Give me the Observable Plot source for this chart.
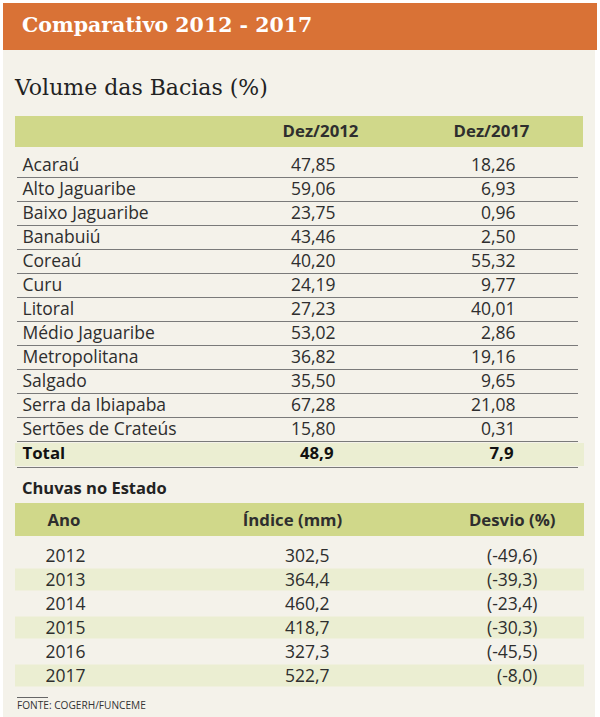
<!DOCTYPE html>
<html>
<head>
<meta charset="utf-8">
<script src="https://cdn.jsdelivr.net/npm/d3@7"></script>
<script src="https://cdn.jsdelivr.net/npm/@observablehq/plot@0.6"></script>
<style>
  html, body { margin: 0; padding: 0; background: #ffffff; }
  #page { position: relative; width: 600px; height: 717px; overflow: hidden; background: #ffffff; }
  .abs { position: absolute; }
  #cream { left: 3px; top: 3px; width: 592px; height: 714px; background: #f4f2ea; }
  #bar { left: 3px; top: 3px; width: 594px; height: 47px; background: #d97236; }
  #title { left: 22px; top: 10px; height: 30px; line-height: 30px; font-family: "DejaVu Serif", serif; font-weight: bold; font-size: 20.5px; color: #ffffff; white-space: nowrap; }
  #subtitle { left: 15px; top: 73px; height: 30px; line-height: 30px; font-family: "DejaVu Serif", serif; font-size: 22px; color: #222; white-space: nowrap; }
  #chuvas { left: 22px; top: 478px; height: 20px; line-height: 20px; font-family: "Open Sans", sans-serif; font-weight: bold; font-size: 16.5px; color: #222; white-space: nowrap; }
  #srcline { left: 17px; top: 697px; width: 31px; height: 1px; background: #666; }
  #source { left: 17px; top: 698px; height: 14px; line-height: 14px; font-family: "Open Sans", sans-serif; font-size: 11.5px; color: #333; white-space: nowrap; transform: scaleX(0.88); transform-origin: 0 0; }
  #plotA { left: 0; top: 110px; }
  #plotB { left: 0; top: 495px; }
  svg { display: block; overflow: visible; }
</style>
</head>
<body>
<div id="page">
  <div id="cream" class="abs"></div>
  <div id="bar" class="abs"></div>
  <div id="title" class="abs">Comparativo 2012 - 2017</div>
  <div id="subtitle" class="abs">Volume das Bacias (%)</div>
  <div id="plotA" class="abs"></div>
  <div id="chuvas" class="abs">Chuvas no Estado</div>
  <div id="plotB" class="abs"></div>
  <div id="srcline" class="abs"></div>
  <div id="source" class="abs">FONTE: COGERH/FUNCEME</div>
</div>
<script>
// ---------- DATA ----------
const basins = ["Acaraú", "Alto Jaguaribe", "Baixo Jaguaribe", "Banabuiú", "Coreaú", "Curu", "Litoral", "Médio Jaguaribe", "Metropolitana", "Salgado", "Serra da Ibiapaba", "Sertões de Crateús"];
const vol2012 = [47.85, 59.06, 23.75, 43.46, 40.20, 24.19, 27.23, 53.02, 36.82, 35.50, 67.28, 15.80];
const vol2017 = [18.26, 6.93, 0.96, 2.50, 55.32, 9.77, 40.01, 2.86, 19.16, 9.65, 21.08, 0.31];
const totalLabel = "Total";
const total2012 = 48.9;
const total2017 = 7.9;
const headersA = ["Dez/2012", "Dez/2017"];

const years = [2012, 2013, 2014, 2015, 2016, 2017];
const indice = [302.5, 364.4, 460.2, 418.7, 327.3, 522.7];
const desvio = [-49.6, -39.3, -23.4, -30.3, -45.5, -8.0];
const headersB = ["Ano", "Índice (mm)", "Desvio (%)"];

// ---------- STYLE / LAYOUT ----------
const SANS = "'Open Sans', sans-serif";
const TEXT = "#2e2e2e";
const GREEN = "#d0d88a";
const LIGHT = "#ebeed2";
const LINE = "#7a7a7a";
const FS = 17.5;
const FSH = 16.8;

const comma = (v, d) => v.toFixed(d).replace(".", ",");

// ---------- TABLE A ----------
const HDR = "hdr";
const rowsA = [HDR, ...basins, totalLabel];
const tableA = basins.map((b, i) => ({name: b, v2012: vol2012[i], v2017: vol2017[i]}));
const totalRow = [{name: totalLabel, v2012: total2012, v2017: total2017}];
const headerA = [{row: HDR, h1: headersA[0], h2: headersA[1]}];

const plotA = Plot.plot({
  width: 600,
  height: 360,
  margin: 0,
  x: {domain: [0, 600], range: [0, 600], axis: null},
  y: {type: "band", domain: rowsA, range: [19, 355], padding: 0, axis: null},
  style: {background: "transparent", fontFamily: SANS, fontSize: FS + "px", color: TEXT},
  marks: [
    Plot.rect(headerA, {y: "row", x1: 15, x2: 583, fill: GREEN, insetTop: -13, insetBottom: 6}),
    Plot.rect(totalRow, {y: "name", x1: 15, x2: 584, fill: LIGHT, insetTop: 2, insetBottom: -1}),
    Plot.ruleY(tableA, {y: "name", x1: 17, x2: 578, stroke: LINE, strokeWidth: 1.2, dy: 12}),
    Plot.ruleY(totalRow, {y: "name", x1: 17, x2: 578, stroke: LINE, strokeWidth: 1.2, dy: 14}),
    Plot.text(headerA, {y: "row", x: 320, text: "h1", fontWeight: "bold", fontSize: FSH, fill: TEXT, dy: -9.5}),
    Plot.text(headerA, {y: "row", x: 491, text: "h2", fontWeight: "bold", fontSize: FSH, fill: TEXT, dy: -9.5}),
    Plot.text(tableA, {y: "name", x: 22, text: "name", textAnchor: "start", fill: TEXT}),
    Plot.text(tableA, {y: "name", x: 335, text: d => comma(d.v2012, 2), textAnchor: "end", fill: TEXT}),
    Plot.text(tableA, {y: "name", x: 515, text: d => comma(d.v2017, 2), textAnchor: "end", fill: TEXT}),
    Plot.text(totalRow, {y: "name", x: 22, text: "name", textAnchor: "start", fontWeight: "bold", fontSize: FSH, fill: "#111"}),
    Plot.text(totalRow, {y: "name", x: 333, text: d => comma(d.v2012, 1), textAnchor: "end", fontWeight: "bold", fontSize: FSH, fill: "#111"}),
    Plot.text(totalRow, {y: "name", x: 513, text: d => comma(d.v2017, 1), textAnchor: "end", fontWeight: "bold", fontSize: FSH, fill: "#111"})
  ]
});
document.getElementById("plotA").appendChild(plotA);

// ---------- TABLE B ----------
const rowsB = [HDR, ...years.map(String)];
const tableB = years.map((y, i) => ({year: String(y), indice: indice[i], desvio: desvio[i], shade: i % 2 === 1}));
const headerB = [{row: HDR, a: headersB[0], b: headersB[1], c: headersB[2]}];

const plotB = Plot.plot({
  width: 600,
  height: 200,
  margin: 0,
  x: {domain: [0, 600], range: [0, 600], axis: null},
  y: {type: "band", domain: rowsB, range: [25, 193], padding: 0, axis: null},
  style: {background: "transparent", fontFamily: SANS, fontSize: FS + "px", color: TEXT},
  marks: [
    Plot.rect(headerB, {y: "row", x1: 15, x2: 584, fill: GREEN, insetTop: -17, insetBottom: 8}),
    Plot.rect(tableB.filter(d => d.shade), {y: "year", x1: 15, x2: 584, fill: LIGHT, insetTop: 0.5, insetBottom: 1.5}),
    Plot.text(headerB, {y: "row", x: 47, text: "a", textAnchor: "start", fontWeight: "bold", fontSize: FSH, fill: TEXT, dy: -12}),
    Plot.text(headerB, {y: "row", x: 292, text: "b", fontWeight: "bold", fontSize: FSH, fill: TEXT, dy: -12}),
    Plot.text(headerB, {y: "row", x: 555, text: "c", textAnchor: "end", fontWeight: "bold", fontSize: FSH, fill: TEXT, dy: -12}),
    Plot.text(tableB, {y: "year", x: 45, text: "year", textAnchor: "start", fill: TEXT}),
    Plot.text(tableB, {y: "year", x: 329, text: d => comma(d.indice, 1), textAnchor: "end", fill: TEXT}),
    Plot.text(tableB, {y: "year", x: 537, text: d => "(" + comma(d.desvio, 1) + ")", textAnchor: "end", fill: TEXT})
  ]
});
document.getElementById("plotB").appendChild(plotB);
</script>
</body>
</html>
